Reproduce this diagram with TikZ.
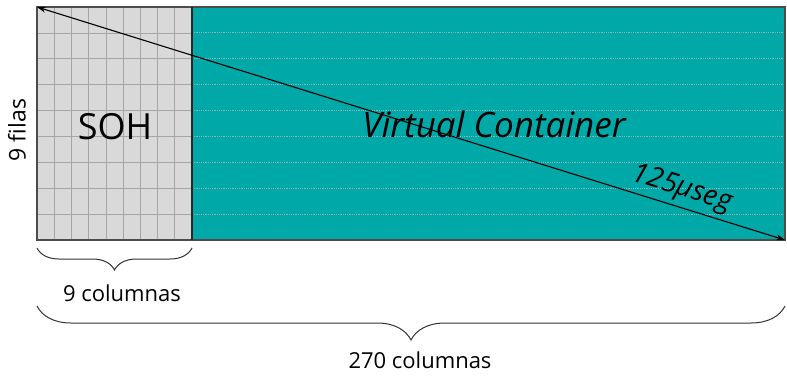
\documentclass[tikz,border=0pt]{standalone}
\usepackage{fontspec}
\setmainfont{Open Sans}
\usetikzlibrary{decorations.pathreplacing,arrows.meta}
\definecolor{teal1}{HTML}{00A8A8}
\definecolor{sohgrey}{HTML}{D9D9D9}
\definecolor{gridgrey}{HTML}{A6A6A6}
\definecolor{vcline}{HTML}{8AB4B4}
\tikzset{
  gridline/.style={draw=gridgrey, line width=0.7pt},
  vcgrid/.style={draw=vcline, line width=0.8pt, densely dotted},
  frame/.style={draw=black!70, line width=1.2pt},
  bracestyle/.style={draw=black!80, line width=1pt, decorate},
  lbl/.style={font=\fontsize{22}{24}\selectfont, inner sep=0pt},
}
\begin{document}
\begin{tikzpicture}[x=1pt,y=-1pt]
\useasboundingbox (0,0) rectangle (787,376);
% regions
\fill[sohgrey] (37,7) rectangle (192,240);
\fill[teal1] (192,7) rectangle (785,240);
% SOH grid
\foreach \i in {1,...,8} \draw[gridline] ({37+\i*155/9},7) -- ({37+\i*155/9},240);
\foreach \j in {1,...,8} \draw[gridline] (37,{7+\j*233/9}) -- (192,{7+\j*233/9});
% VC rows
\foreach \j in {1,...,8} \draw[vcgrid] (192,{7+\j*233/9}) -- (785,{7+\j*233/9});
% frames
\draw[frame] (37,7) rectangle (785,240);
\draw[frame, draw=black!85] (192,7) -- (192,240);
% nodes
\coordinate (tl) at (37,7);
\coordinate (br) at (785,240);
\coordinate (sohL) at (37,248);
\coordinate (sohR) at (192,248);
\coordinate (allL) at (37,306);
\coordinate (allR) at (785,306);
\node[font=\fontsize{36}{38}\selectfont, inner sep=0pt] (soh) at (115,127) {SOH};
\node[font=\fontsize{35}{38}\selectfont\itshape, inner sep=0pt] (vc) at (494,124) {Virtual Container};
\node[lbl, font=\fontsize{23}{25}\selectfont, rotate=90] (filas) at (17,130) {9 filas};
% arrow
\draw[{Stealth[length=9pt,width=6pt]}-{Stealth[length=9pt,width=6pt]}, line width=1.1pt] (tl) -- (br)
  node[pos=0.855, above=4pt, sloped, font=\fontsize{28}{30}\selectfont\itshape, inner sep=0pt] (t125) {125µseg};
% braces
\draw[bracestyle, decoration={brace, mirror, amplitude=22pt}] (sohL) -- (sohR);
\node[lbl] (c9) at (122,293) {9 columnas};
\draw[bracestyle, decoration={brace, mirror, amplitude=34pt}] (allL) -- (allR);
\node[lbl] (c270) at (420,360) {270 columnas};
\end{tikzpicture}
\end{document}
